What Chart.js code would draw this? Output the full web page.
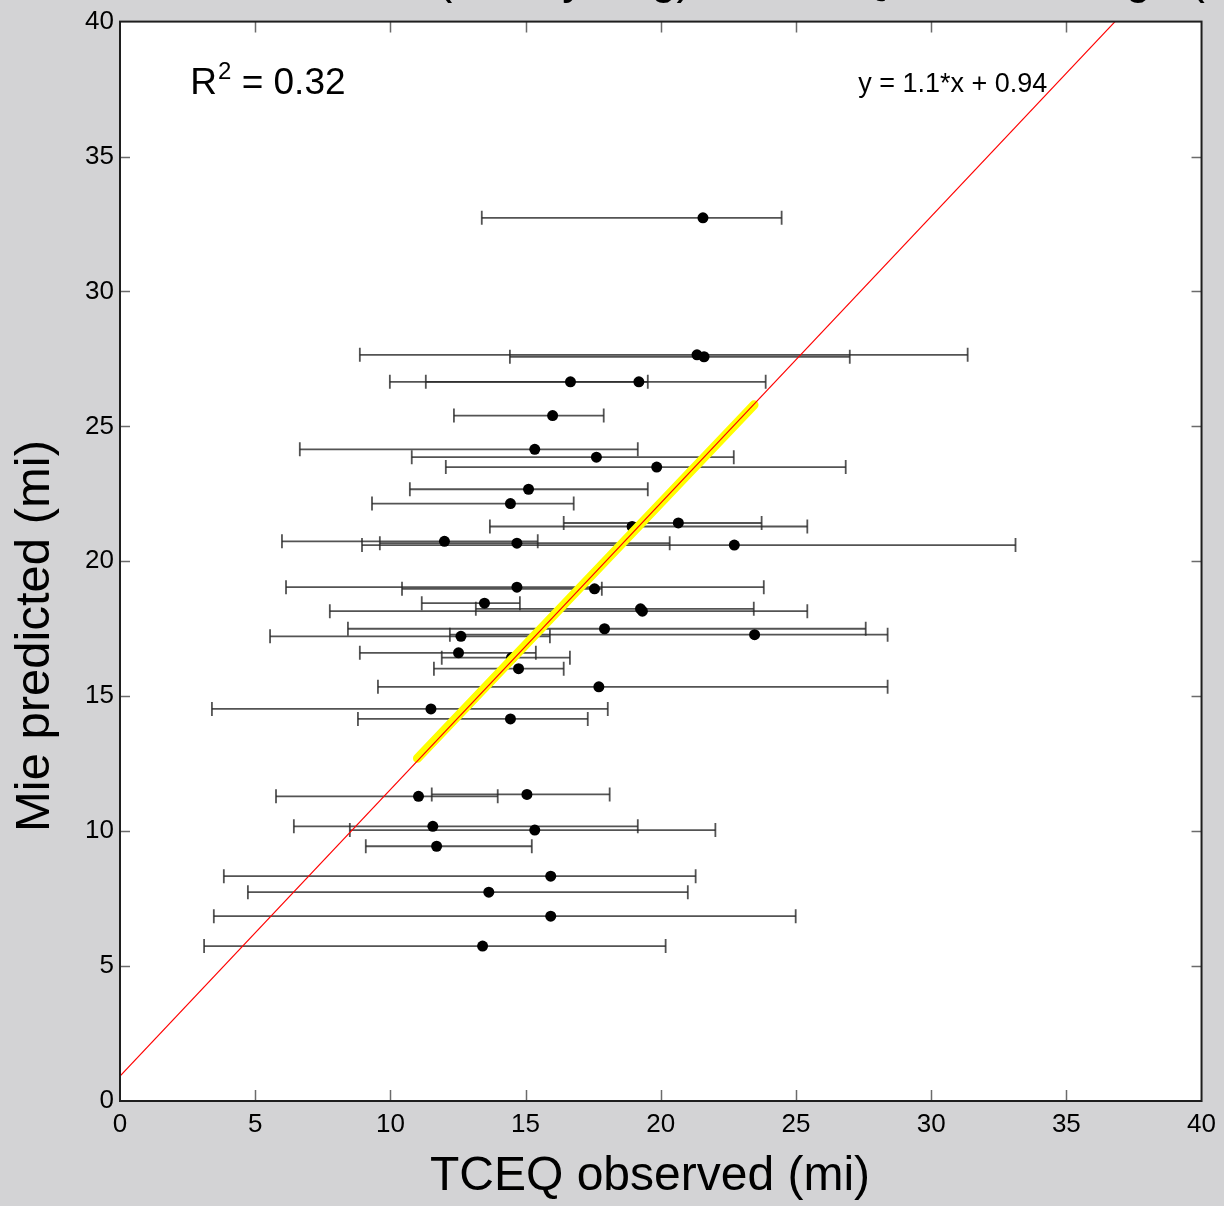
<!DOCTYPE html>
<html>
<head>
<meta charset="utf-8">
<title>Mie predicted vs TCEQ observed</title>
<script src="https://cdn.jsdelivr.net/npm/chart.js@4.4.1/dist/chart.umd.min.js"></script>
<style>
  html, body { margin: 0; padding: 0; background: #d3d3d5; }
  canvas { display: block; }
</style>
</head>
<body>
<canvas id="chart" width="1224" height="1206"></canvas>
<script>
// TCEQ observed visual range (mi), centre of each bar
const observed = [
    21.56, 21.34, 21.60, 16.66, 19.19, 16.00, 15.34, 17.62, 19.85, 15.11,
    14.44, 20.65, 18.94, 12.00, 14.68, 22.72, 14.68, 17.55, 13.48, 19.25,
    19.32, 17.92, 12.61, 23.47, 12.52, 14.48, 14.74, 17.71, 11.50, 14.44,
    11.04, 15.05, 11.57, 15.34, 11.71, 15.93, 13.64, 15.93, 13.41
];
// Mie predicted visual range (mi)
const predicted = [
    32.73, 27.65, 27.58, 26.65, 26.65, 25.40, 24.15, 23.86, 23.49, 22.67,
    22.14, 21.42, 21.29, 20.74, 20.67, 20.60, 19.04, 18.98, 18.45, 18.24,
    18.15, 17.50, 17.22, 17.28, 16.61, 16.43, 16.02, 15.35, 14.53, 14.16,
    11.29, 11.36, 10.18, 10.04, 9.44, 8.33, 7.74, 6.85, 5.74
];
// horizontal error bar ends (observed range within the hour)
const observedLow = [
    13.38, 8.87, 14.42, 9.98, 11.31, 12.35, 6.65, 10.79, 12.05, 10.72,
    9.32, 16.41, 13.68, 5.99, 9.61, 8.95, 6.14, 10.43, 11.16, 13.16,
    7.76, 8.43, 5.55, 12.20, 8.87, 11.90, 11.61, 9.54, 3.40, 8.80,
    5.77, 11.53, 6.43, 8.50, 9.09, 3.84, 4.73, 3.47, 3.11
];
const observedHigh = [
    24.47, 31.35, 26.99, 19.52, 23.88, 17.89, 19.15, 22.70, 26.84, 19.52,
    16.78, 23.73, 25.42, 15.45, 20.33, 33.12, 23.81, 17.82, 14.79, 23.44,
    25.42, 27.58, 15.90, 28.39, 15.38, 16.64, 16.41, 28.39, 18.04, 17.30,
    13.97, 18.11, 19.15, 22.02, 15.23, 21.29, 21.00, 24.99, 20.18
];

// fitted line (red) and the highlighted part of it (yellow)
const fitLineX = [0, 36.8];
const fitLineY = [0.92, 40];
const highlightX = [11.0, 23.45];
const highlightY = [12.7, 25.8];

const tickValues = [0, 5, 10, 15, 20, 25, 30, 35, 40];

const titleText = 'Mie Predicted (Hourly Avg) vs TCEQ Visual Range (mi)';
const xTitle = 'TCEQ observed (mi)';
const yTitle = 'Mie predicted (mi)';
const rSquared = '0.32';
const equationText = 'y = 1.1*x + 0.94';

const FONT = '"Liberation Sans", Arial, sans-serif';
const BAR_COLOR = 'rgba(40,40,40,0.8)';

const toPoints = (xs, ys) => xs.map((v, i) => ({ x: v, y: ys[i] }));

const errorBars = observed.map((v, i) => ({
    type: 'scatter',
    showLine: true,
    data: [{ x: observedLow[i], y: predicted[i] }, { x: observedHigh[i], y: predicted[i] }],
    borderColor: BAR_COLOR,
    borderWidth: 1.8,
    pointStyle: 'line',
    rotation: 90,
    pointRadius: 7,
    pointBorderColor: BAR_COLOR,
    pointBorderWidth: 1.8,
    order: 3
}));

const frame = {
    id: 'frame',
    beforeDraw(chart) {
        const { ctx, chartArea: a, width, height } = chart;
        ctx.save();
        ctx.fillStyle = '#d3d3d5';
        ctx.fillRect(0, 0, width, height);
        ctx.fillStyle = '#ffffff';
        ctx.fillRect(a.left, a.top, a.right - a.left, a.bottom - a.top);
        ctx.restore();
    },
    afterDraw(chart) {
        const { ctx, chartArea: a } = chart;
        const x = chart.scales.x;
        const y = chart.scales.y;
        ctx.save();

        // inward tick marks on all four sides
        ctx.strokeStyle = '#6b6b6b';
        ctx.lineWidth = 1.5;
        ctx.beginPath();
        tickValues.slice(1, -1).forEach(v => {
            const px = Math.round(x.getPixelForValue(v)) + 0.5;
            ctx.moveTo(px, a.bottom); ctx.lineTo(px, a.bottom - 11);
            ctx.moveTo(px, a.top); ctx.lineTo(px, a.top + 11);
            const py = Math.round(y.getPixelForValue(v)) + 0.5;
            ctx.moveTo(a.left, py); ctx.lineTo(a.left + 10, py);
            ctx.moveTo(a.right, py); ctx.lineTo(a.right - 10, py);
        });
        ctx.stroke();

        // axes box
        ctx.strokeStyle = '#1e1e1e';
        ctx.lineWidth = 2;
        ctx.strokeRect(a.left, a.top, a.right - a.left, a.bottom - a.top);

        ctx.fillStyle = '#000';

        // title, mostly cut off above the figure
        ctx.font = '46px ' + FONT;
        ctx.textAlign = 'left';
        ctx.textBaseline = 'alphabetic';
        ctx.fillText(titleText, 143, -7);

        // R squared
        let tx = x.getPixelForValue(2.6);
        const ty = y.getPixelForValue(37.3);
        ctx.font = '37px ' + FONT;
        ctx.fillText('R', tx, ty);
        tx += ctx.measureText('R').width;
        ctx.font = '24px ' + FONT;
        ctx.fillText('2', tx + 1, ty - 15);
        tx += ctx.measureText('2').width + 1;
        ctx.font = '37px ' + FONT;
        ctx.fillText(' = ' + rSquared, tx, ty);

        // fit equation
        ctx.font = '27px ' + FONT;
        ctx.fillText(equationText, x.getPixelForValue(27.3), y.getPixelForValue(37.4));

        // axis titles
        ctx.textAlign = 'center';
        ctx.textBaseline = 'middle';
        ctx.font = '48px ' + FONT;
        ctx.fillText(xTitle, 650, 1177);

        ctx.save();
        ctx.translate(35, 636);
        ctx.rotate(-Math.PI / 2);
        ctx.font = '49px ' + FONT;
        ctx.fillText(yTitle, 0, 0);
        ctx.restore();

        ctx.restore();
    }
};

const tickFont = { family: FONT, size: 26 };

const chart = new Chart(document.getElementById('chart'), {
    type: 'scatter',
    data: {
        datasets: [
            {
                label: 'fit',
                showLine: true,
                data: toPoints(fitLineX, fitLineY),
                borderColor: '#ff0000',
                borderWidth: 1.2,
                pointRadius: 0,
                order: 0
            },
            {
                label: 'highlight',
                showLine: true,
                data: toPoints(highlightX, highlightY),
                borderColor: '#ffff00',
                borderWidth: 9,
                borderCapStyle: 'round',
                pointRadius: 0,
                order: 1
            },
            {
                label: 'Mie vs TCEQ',
                data: toPoints(observed, predicted),
                backgroundColor: '#000',
                borderWidth: 0,
                pointRadius: 5.5,
                order: 2
            },
            ...errorBars
        ]
    },
    options: {
        responsive: false,
        animation: false,
        devicePixelRatio: 1,
        layout: { padding: { top: 19, right: 22, left: 0, bottom: 0 } },
        plugins: {
            legend: { display: false },
            tooltip: { enabled: false }
        },
        scales: {
            x: {
                type: 'linear',
                min: 0,
                max: 40,
                grid: { display: false, drawTicks: false },
                border: { display: false },
                ticks: {
                    stepSize: 5,
                    autoSkip: false,
                    maxRotation: 0,
                    padding: 8,
                    color: '#000',
                    font: tickFont
                },
                afterFit: (scale) => { scale.height = 105; }
            },
            y: {
                type: 'linear',
                min: 0,
                max: 40,
                grid: { display: false, drawTicks: false },
                border: { display: false },
                ticks: {
                    stepSize: 5,
                    autoSkip: false,
                    padding: 6,
                    color: '#000',
                    font: tickFont
                },
                afterFit: (scale) => { scale.width = 120; }
            }
        }
    },
    plugins: [frame]
});
</script>
</body>
</html>
